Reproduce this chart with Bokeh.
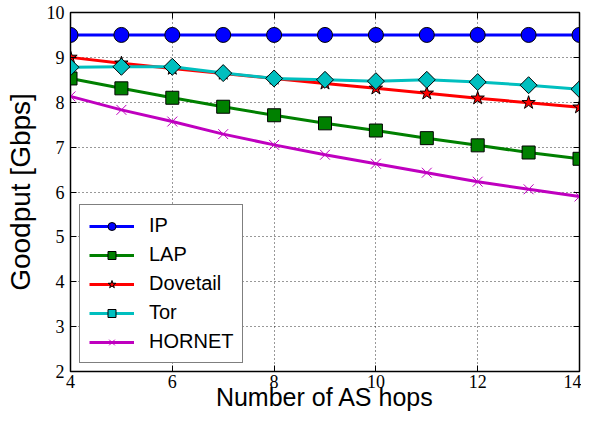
import math
from bokeh.plotting import figure
from bokeh.models import Range1d, LinearAxis, Legend, LegendItem, FixedTicker
from bokeh.embed import file_html
from bokeh.resources import INLINE

hops = [4, 5, 6, 7, 8, 9, 10, 11, 12, 13, 14]
ip = [9.5, 9.5, 9.5, 9.5, 9.5, 9.5, 9.5, 9.5, 9.5, 9.5, 9.5]
lap = [8.53, 8.31, 8.10, 7.90, 7.71, 7.53, 7.37, 7.20, 7.04, 6.88, 6.74]
dovetail = [9.0, 8.87, 8.75, 8.64, 8.53, 8.42, 8.31, 8.20, 8.09, 7.99, 7.89]
tor = [8.78, 8.79, 8.79, 8.65, 8.53, 8.50, 8.47, 8.50, 8.45, 8.38, 8.29]
hornet = [8.13, 7.83, 7.57, 7.29, 7.05, 6.83, 6.63, 6.43, 6.23, 6.06, 5.90]
x_ticks = [4, 6, 8, 10, 12, 14]
y_ticks = [2, 3, 4, 5, 6, 7, 8, 9, 10]

p = figure(width=581, height=414, output_backend="svg", toolbar_location=None,
           x_range=Range1d(4, 14), y_range=Range1d(2, 10),
           min_border_left=70, min_border_right=2, min_border_top=12, min_border_bottom=43)
p.outline_line_color = "black"
p.outline_line_width = 1.5
p.background_fill_color = "white"
p.border_fill_color = "white"

serif = "Liberation Serif"
sans = "Liberation Sans"

for ax in [p.xaxis[0], p.yaxis[0]]:
    ax.major_tick_in = 6
    ax.major_tick_out = 0
    ax.minor_tick_line_color = None
    ax.axis_line_color = "black"
    ax.major_label_text_font = serif
    ax.major_label_text_font_size = "18px"
    ax.major_label_text_color = "black"
    ax.axis_label_text_font = sans
    ax.axis_label_text_font_style = "normal"
    ax.axis_label_text_color = "black"

p.xaxis[0].ticker = FixedTicker(ticks=x_ticks)
p.yaxis[0].ticker = FixedTicker(ticks=y_ticks)
p.xaxis[0].axis_label = "Number of AS hops"
p.yaxis[0].axis_label = "Goodput [Gbps]"
p.xaxis[0].axis_label_text_font_size = "25px"
p.yaxis[0].axis_label_text_font_size = "28px"
p.xaxis[0].major_label_standoff = 3
p.yaxis[0].major_label_standoff = 6
p.xaxis[0].axis_label_standoff = -8
p.yaxis[0].axis_label_standoff = 8

for loc, tick in [("right", y_ticks), ("above", x_ticks)]:
    ax = LinearAxis(ticker=FixedTicker(ticks=tick))
    ax.major_tick_in = 6
    ax.major_tick_out = 0
    ax.minor_tick_line_color = None
    ax.major_label_overrides = {t: "" for t in tick}
    ax.major_label_text_font_size = "0px"
    ax.major_label_standoff = 0
    ax.axis_label_standoff = 0
    ax.axis_line_color = "black"
    p.add_layout(ax, loc)

p.xgrid.ticker = FixedTicker(ticks=x_ticks)
p.ygrid.ticker = FixedTicker(ticks=y_ticks)
for g in [p.xgrid[0], p.ygrid[0]]:
    g.grid_line_color = "black"
    g.grid_line_dash = "1 3"
    g.grid_line_width = 1
    g.grid_line_alpha = 0.8

items = []

l = p.line(hops, ip, line_color="#0000ff", line_width=3)
m = p.scatter(hops, ip, marker="circle", size=15, fill_color="#0000ff", line_color="black", line_width=1)
items.append(LegendItem(label="IP", renderers=[l, m]))

l = p.line(hops, lap, line_color="#008000", line_width=3)
m = p.scatter(hops, lap, marker="square", size=13, fill_color="#008000", line_color="black", line_width=1)
items.append(LegendItem(label="LAP", renderers=[l, m]))

l = p.line(hops, dovetail, line_color="#ff0000", line_width=3)
m = p.scatter(hops, dovetail, marker="star", size=14, fill_color="#ff0000", line_color="black", line_width=1)
items.append(LegendItem(label="Dovetail", renderers=[l, m]))

l = p.line(hops, tor, line_color="#00bfbf", line_width=3)
m = p.scatter(hops, tor, marker="square", angle=math.pi / 4, size=12, fill_color="#00bfbf", line_color="black", line_width=1)
items.append(LegendItem(label="Tor", renderers=[l, m]))

l = p.line(hops, hornet, line_color="#bf00bf", line_width=3)
m = p.scatter(hops, hornet, marker="x", size=14, line_color="#bf00bf", line_width=1)
items.append(LegendItem(label="HORNET", renderers=[l, m]))

legend = Legend(items=items, location=(9, 8))
legend.border_line_color = "black"
legend.border_line_width = 1
legend.background_fill_alpha = 1
legend.label_text_font = sans
legend.label_text_font_size = "20px"
legend.label_text_color = "black"
legend.glyph_width = 45
legend.glyph_height = 20
legend.label_height = 20
legend.spacing = 6
legend.padding = 9
legend.margin = 0
legend.label_standoff = 15
p.add_layout(legend, "center")

open("out.html", "w").write(file_html(p, INLINE))
